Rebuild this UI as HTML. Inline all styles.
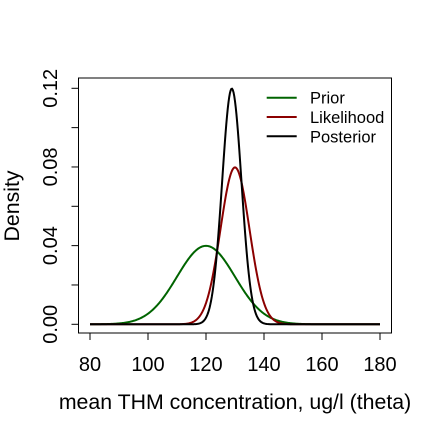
<!DOCTYPE html>
<html><head><meta charset="utf-8"><style>
body{margin:0;background:#fff;}
svg text{font-family:"Liberation Sans",sans-serif;fill:#000;}
</style></head><body>
<svg id="chart" width="432" height="432" xmlns="http://www.w3.org/2000/svg">
<rect x="78.5" y="78" width="313" height="255" fill="none" stroke="#000" stroke-width="1"/>
<g id="axes"></g>
<g id="series"></g>
<text x="235" y="409" font-size="21.3" text-anchor="middle">mean THM concentration, ug/l (theta)</text>
<text transform="translate(19,206) rotate(-90)" font-size="21.3" text-anchor="middle">Density</text>
<g id="legend"></g>
</svg>
<script>
const seriesNames = ["Prior", "Likelihood", "Posterior"];
const seriesMeans = [120, 130, 128.9];
const seriesSDs = [10, 5, 3.33];
const xTicks = [80, 100, 120, 140, 160, 180];
const yTicks = [0, 0.02, 0.04, 0.06, 0.08, 0.10, 0.12];
const yTickLabels = ["0.00", "", "0.04", "", "0.08", "", "0.12"];
const colors = ["#006400", "#8b0000", "#000000"];
const NS = "http://www.w3.org/2000/svg";
const X = v => 90 + (v - 80) * 2.9;
const Y = v => 324.3 - v * (324.3 - 88.3) / 0.12;
function mk(tag, attrs, parent) { const e = document.createElementNS(NS, tag); for (const k in attrs) e.setAttribute(k, attrs[k]); parent.appendChild(e); return e; }
const axes = document.getElementById('axes');
xTicks.forEach(t => {
  const l = mk('line', {x1: X(t), x2: X(t), y1: 333, y2: 340, stroke: '#000'}, axes);
  
  
  const tx = mk('text', {x: X(t), y: 371, 'font-size': 20, 'text-anchor': 'middle'}, axes);
  tx.textContent = t;
  
  
});
mk('line', {x1: X(80), x2: X(180), y1: 333, y2: 333, stroke: '#000'}, axes);
yTicks.forEach((t, i) => {
  const l = mk('line', {x1: 71.5, x2: 78.5, y1: Y(t), y2: Y(t), stroke: '#000'}, axes);
  
  
  if (yTickLabels[i]) {
    const tx = mk('text', {transform: `translate(57,${Y(t)}) rotate(-90)`, 'font-size': 20, 'text-anchor': 'middle'}, axes);
    tx.textContent = yTickLabels[i];
    
    
  }
});
mk('line', {x1: 78.5, x2: 78.5, y1: Y(0), y2: Y(0.12), stroke: '#000'}, axes);
const ser = document.getElementById('series');
seriesNames.forEach((n, i) => {
  let d = '';
  for (let v = 80; v <= 180.001; v += 0.25) {
    const z = (v - seriesMeans[i]) / seriesSDs[i];
    const y = Math.exp(-0.5 * z * z) / (seriesSDs[i] * Math.sqrt(2 * Math.PI));
    d += (d ? 'L' : 'M') + X(v).toFixed(2) + ',' + Y(y).toFixed(2);
  }
  const p = mk('path', {d: d, fill: 'none', stroke: colors[i], 'stroke-width': 2}, ser);
  
  
});
const lg = document.getElementById('legend');
seriesNames.forEach((n, i) => {
  const y = 97.7 + i * 19.3;
  const l = mk('line', {x1: 266.7, x2: 296.7, y1: y, y2: y, stroke: colors[i], 'stroke-width': 2}, lg);
  
  
  const t = mk('text', {x: 310, y: y + 6, 'font-size': 16.5}, lg);
  t.textContent = n;
  
  
});
</script>
</body></html>
